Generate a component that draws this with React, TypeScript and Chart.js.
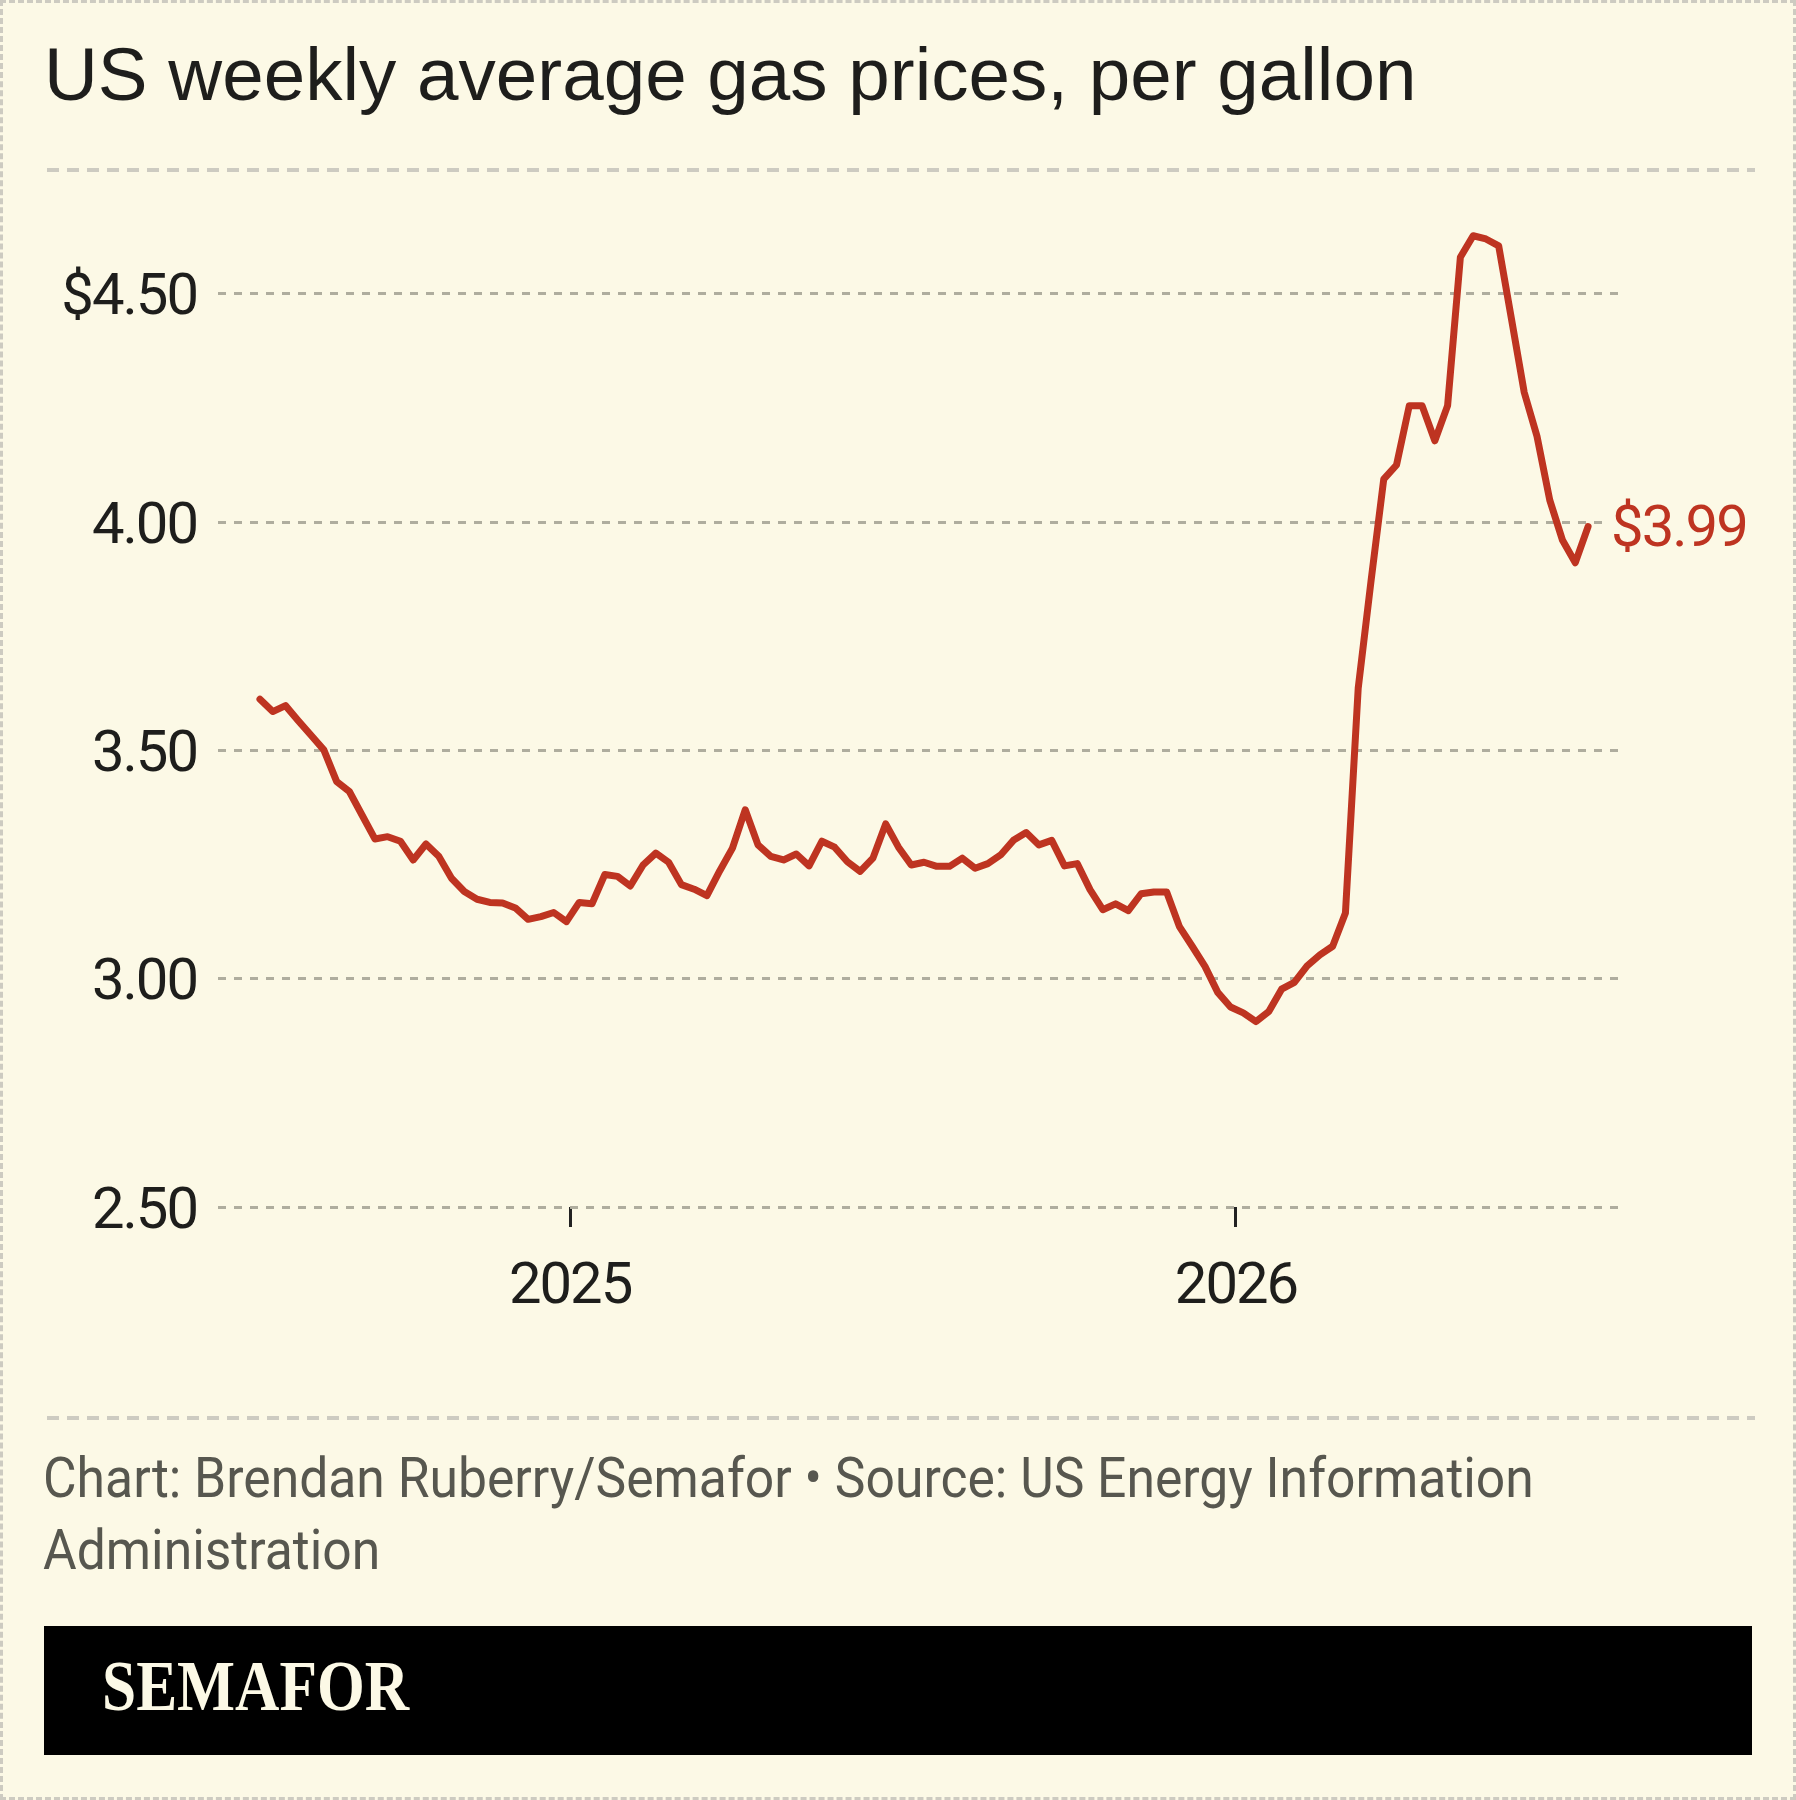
import React, { useEffect, useRef } from "react";
import { Chart, registerables } from "chart.js";

Chart.register(...registerables);

const TITLE = "US weekly average gas prices, per gallon";
const SOURCE_LINE_1 = "Chart: Brendan Ruberry/Semafor • Source: US Energy Information";
const SOURCE_LINE_2 = "Administration";
const LOGO = "SEMAFOR";

// Weekly observations, first week starting at START_DATE
const START_DATE = "2024-07-15";
const PRICES = [
  3.612, 3.585, 3.598, 3.565, 3.533, 3.501, 3.432, 3.41, 3.358, 3.306,
  3.311, 3.301, 3.26, 3.295, 3.268, 3.22, 3.191, 3.174, 3.167, 3.166,
  3.155, 3.13, 3.136, 3.145, 3.125, 3.167, 3.164, 3.228, 3.224, 3.203,
  3.249, 3.275, 3.255, 3.206, 3.196, 3.182, 3.236, 3.286, 3.37, 3.293,
  3.268, 3.26, 3.273, 3.247, 3.301, 3.288, 3.256, 3.235, 3.264, 3.339,
  3.288, 3.249, 3.255, 3.246, 3.246, 3.264, 3.242, 3.252, 3.271, 3.303,
  3.32, 3.293, 3.303, 3.247, 3.252, 3.195, 3.151, 3.164, 3.149, 3.186,
  3.19, 3.19, 3.114, 3.071, 3.027, 2.97, 2.938, 2.925, 2.906, 2.928,
  2.977, 2.992, 3.028, 3.052, 3.071, 3.144, 3.636, 3.87, 4.094, 4.125,
  4.255, 4.255, 4.178, 4.255, 4.58, 4.627, 4.62, 4.605, 4.445, 4.284,
  4.188, 4.048, 3.96, 3.911, 3.99,
];
const Y_TICKS = [2.5, 3, 3.5, 4, 4.5];
const X_TICK_LABELS = ["2025", "2026"];

const BG = "#FCF9E6";
const RED = "#BE3421";
const GRID = "#AFAD9E";
const SEP = "#CDCBC1";
const TEXT = "#1E1E1C";
const MUTED = "#57574F";
const AXIS_FONT = '"Roboto", "Liberation Sans", sans-serif';

const W = 1796;
const CANVAS_H = 1400;

export default function App() {
  const ref = useRef<HTMLCanvasElement>(null);

  useEffect(() => {
    const DAY = 86400000;
    const startMs = Date.parse(START_DATE + "T00:00:00Z");
    const points = PRICES.map((p, i) => ({ x: i * 7, y: p }));
    const xTicks = X_TICK_LABELS.map((l) => (Date.UTC(Number(l), 0, 1) - startMs) / DAY);
    const lastLabel = "$" + PRICES[PRICES.length - 1].toFixed(2);

    const spacing = {
      id: "spacing",
      beforeDraw(chart: any) {
        chart.ctx.letterSpacing = "-2px";
      },
      afterDatasetsDraw(chart: any) {
        const meta = chart.getDatasetMeta(0);
        const pt = meta.data[meta.data.length - 1];
        const ctx = chart.ctx;
        ctx.save();
        ctx.font = `58px ${AXIS_FONT}`;
        ctx.letterSpacing = "-2px";
        ctx.textAlign = "left";
        ctx.textBaseline = "middle";
        const w = ctx.measureText(lastLabel).width;
        ctx.fillStyle = BG;
        ctx.fillRect(pt.x + 17, pt.y - 30, w + 12, 66);
        ctx.fillStyle = RED;
        ctx.fillText(lastLabel, pt.x + 23, pt.y + 5);
        ctx.restore();
      },
    };

    const chart = new Chart(ref.current!, {
      type: "line",
      data: {
        datasets: [
          {
            data: points,
            borderColor: RED,
            borderWidth: 7,
            pointRadius: 0,
            tension: 0,
            borderJoinStyle: "round",
            borderCapStyle: "round",
          },
        ],
      },
      options: {
        animation: false,
        responsive: false,
        maintainAspectRatio: false,
        layout: { padding: { left: 0, right: W - 1620, top: 179.6, bottom: 0 } },
        plugins: { legend: { display: false }, tooltip: { enabled: false } },
        scales: {
          x: {
            type: "linear",
            min: -23,
            max: 745.5,
            afterBuildTicks: (s: any) => {
              s.ticks = xTicks.map((v) => ({ value: v }));
            },
            afterFit: (s: any) => {
              s.height = CANVAS_H - 1207;
            },
            border: { display: false },
            grid: {
              display: true,
              drawOnChartArea: false,
              drawTicks: true,
              tickLength: 20,
              tickColor: "#222",
              tickWidth: 3,
            },
            ticks: {
              padding: 27,
              color: TEXT,
              font: { family: AXIS_FONT, size: 58 },
              maxRotation: 0,
              callback: (v: any) => {
                const idx = xTicks.indexOf(Number(v));
                return idx >= 0 ? X_TICK_LABELS[idx] : "";
              },
            },
          },
          y: {
            min: 2.5,
            max: 4.75,
            afterBuildTicks: (s: any) => {
              s.ticks = Y_TICKS.map((v) => ({ value: v }));
            },
            afterFit: (s: any) => {
              s.width = 218;
            },
            border: { display: false, dash: [8, 8] },
            grid: { color: GRID, lineWidth: 3, drawTicks: false },
            ticks: {
              padding: 21,
              labelOffset: 6,
              color: TEXT,
              font: { family: AXIS_FONT, size: 58 },
              callback: (v: any) => (Number(v) === 4.5 ? "$" : "") + Number(v).toFixed(2),
            },
          },
        },
      },
      plugins: [spacing],
    });
    return () => chart.destroy();
  }, []);

  const dashed = (top: number) => ({
    position: "absolute" as const,
    left: 44,
    top,
    width: 1708,
    height: 4,
    backgroundImage: `repeating-linear-gradient(to right, ${SEP} 0 12px, transparent 12px 20px)`,
  });

  return (
    <div
      style={{
        position: "absolute",
        left: 0,
        top: 0,
        width: W,
        height: 1800,
        background: BG,
        overflow: "hidden",
        boxSizing: "border-box",
        border: `3px dashed ${SEP}`,
      }}
    >
      <div
        style={{
          position: "absolute",
          left: 41,
          top: 34.4,
          fontFamily: '"Liberation Sans", Arial, sans-serif',
          fontSize: 74.6,
          lineHeight: "74px",
          color: TEXT,
          whiteSpace: "nowrap",
        }}
      >
        {TITLE}
      </div>
      <div style={dashed(165)} />
      <canvas
        ref={ref}
        width={W}
        height={CANVAS_H}
        style={{ position: "absolute", left: -3, top: -3, width: W, height: CANVAS_H }}
      />
      <div style={dashed(1413)} />
      <div
        style={{
          position: "absolute",
          left: 40,
          top: 1438.6,
          fontFamily: AXIS_FONT,
          fontSize: 56,
          lineHeight: "72px",
          color: MUTED,
          whiteSpace: "nowrap",
          transform: "scaleX(0.922)",
          transformOrigin: "left",
        }}
      >
        <div>{SOURCE_LINE_1}</div>
        <div>{SOURCE_LINE_2}</div>
      </div>
      <div
        style={{
          position: "absolute",
          left: 41,
          top: 1623,
          width: 1708,
          height: 129,
          background: "#000",
        }}
      >
        <div
          style={{
            position: "absolute",
            left: 58,
            top: 24.5,
            fontFamily: '"Liberation Serif", "Times New Roman", serif',
            fontWeight: 700,
            fontSize: 71,
            lineHeight: "71px",
            color: BG,
            transform: "scaleX(0.865)",
            transformOrigin: "left",
            whiteSpace: "nowrap",
          }}
        >
          {LOGO}
        </div>
      </div>
    </div>
  );
}
